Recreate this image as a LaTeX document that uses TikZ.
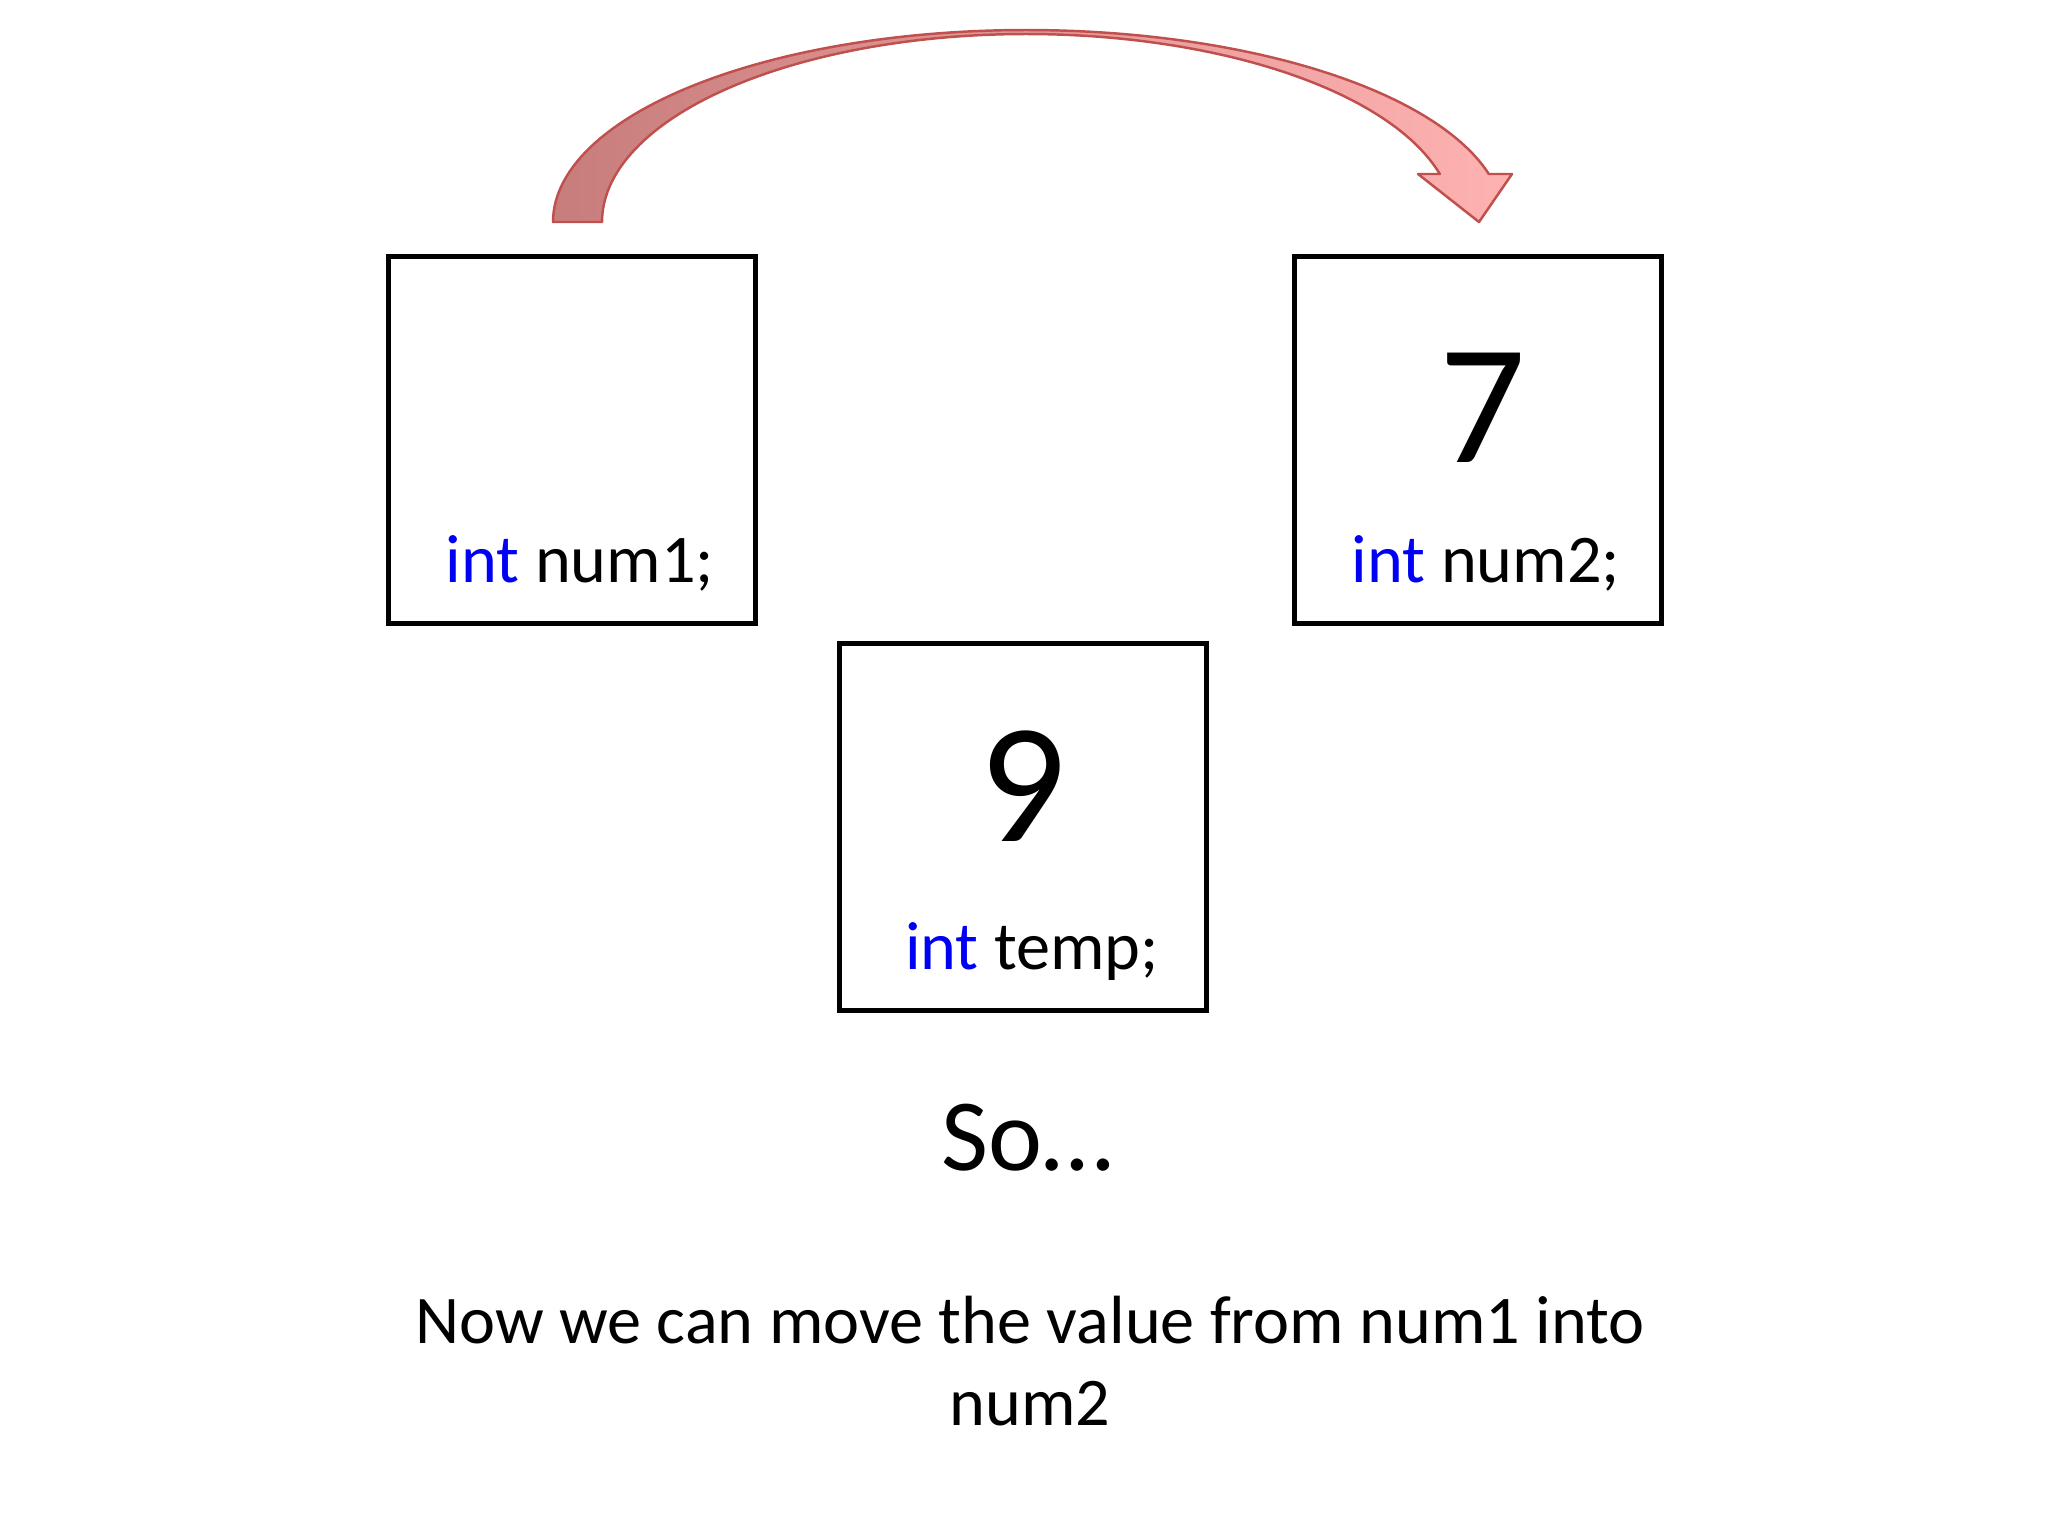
\documentclass[tikz,border=0pt]{standalone}
\usepackage{fontspec}
\setmainfont{Carlito}
\definecolor{kwblue}{RGB}{0,0,245}
\definecolor{arrowedge}{RGB}{192,80,77}
\definecolor{arrowL}{RGB}{200,125,125}
\definecolor{arrowR}{RGB}{255,178,178}
\tikzset{
  varbox/.style={draw=black, line width=1.45pt, minimum width=3.66cm, minimum height=3.66cm, inner sep=0pt},
  lbl/.style={anchor=base, inner sep=0pt, font=\fontsize{19.4}{23}\selectfont},
  bigval/.style={anchor=base, inner sep=0pt, font=\fontsize{48.5}{58}\selectfont},
  sotext/.style={anchor=base, inner sep=0pt, font=\fontsize{29.1}{35}\selectfont},
  msg/.style={anchor=base, inner sep=0pt, font=\fontsize{19.4}{23}\selectfont},
  blockarrow/.style={left color=arrowL, right color=arrowR, draw=arrowedge, line width=0.7pt, line join=round}
}
\begin{document}
\begin{tikzpicture}[x=0.01cm, y=-0.01cm]
\useasboundingbox[fill=white] (0,0) rectangle (2048,1536);

% variable boxes
\node[varbox] (num1) at (572,440) {};
\node[varbox] (num2) at (1478,440) {};
\node[varbox] (temp) at (1023,827) {};

% labels
\node[lbl] (l1) at (580,582) {\textcolor{kwblue}{int} num1;};
\node[lbl] (l2) at (1486,582) {\textcolor{kwblue}{int} num2;};
\node[lbl] (l3) at (1032,969) {\textcolor{kwblue}{int} temp;};

% values
\node[bigval] (v2) at (1483,462) {7};
\node[bigval] (v3) at (1023,841) {9};

% curved block arrow
\path[blockarrow] (553,222)
  -- plot[domain=180:90, samples=60] ({1026+473*cos(\x)},{222-192*sin(\x)})
  -- plot[domain=90:14.48, samples=60] ({1026+478*cos(\x)},{222-192*sin(\x)})
  -- (1512,174) -- (1479,222) -- (1418,174) -- (1440,174)
  -- plot[domain=14.79:90, samples=60] ({1026+428*cos(\x)},{222-188*sin(\x)})
  -- plot[domain=90:180, samples=60] ({1026+424*cos(\x)},{222-188*sin(\x)})
  -- cycle;

% texts
\node[sotext] (so) at (1027,1170) {So…};
\node[msg] (msg1) at (1030,1343) {Now we can move the value from num1 into};
\node[msg] (msg2) at (1030,1425) {num2};
\end{tikzpicture}
\end{document}
